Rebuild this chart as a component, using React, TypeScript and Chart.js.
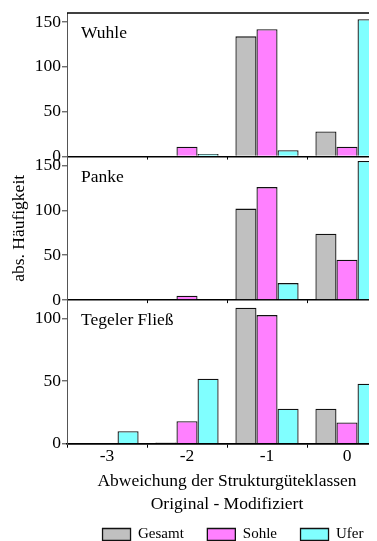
import React, { useEffect, useRef } from "react";
import { Chart, registerables } from "chart.js";

Chart.register(...registerables);

const categories = ["-3", "-2", "-1", "0"];
const seriesNames = ["Gesamt", "Sohle", "Ufer"];
const seriesColors = ["#c0c0c0", "#ff80ff", "#80ffff"];

const panelNames = ["Wuhle", "Panke", "Tegeler Fließ"];
const panelMax = [160, 160, 115];

const wuhleGesamt = [0, 1, 134, 28];
const wuhleSohle = [0, 11, 142, 11];
const wuhleUfer = [0, 3, 7, 153];

const pankeGesamt = [0, 1, 102, 74];
const pankeSohle = [0, 5, 126, 45];
const pankeUfer = [0, 1, 19, 155];

const tegelGesamt = [0, 1, 109, 28];
const tegelSohle = [0, 18, 103, 17];
const tegelUfer = [10, 52, 28, 48];

const yTitle = "abs. Häufigkeit";
const xTitle = ["Abweichung der Strukturgüteklassen", "Original - Modifiziert"];

const FONT = "'Liberation Serif', 'Times New Roman', serif";

export default function App() {
  const ref = useRef<HTMLCanvasElement>(null);

  useEffect(() => {
    document.documentElement.style.overflow = "hidden";
    document.body.style.overflow = "hidden";
    const canvas = ref.current;
    if (!canvas) return;

    const panelData = [
      [wuhleGesamt, wuhleSohle, wuhleUfer],
      [pankeGesamt, pankeSohle, pankeUfer],
      [tegelGesamt, tegelSohle, tegelUfer],
    ];
    const axisIds = ["yW", "yP", "yT"];

    const datasets: any[] = [];
    panelData.forEach((panel, p) => {
      panel.forEach((vals, s) => {
        datasets.push({
          label: seriesNames[s],
          data: vals,
          yAxisID: axisIds[p],
          stack: seriesNames[s],
          backgroundColor: seriesColors[s],
          borderColor: "#111",
          borderWidth: 1.3,
          categoryPercentage: 0.79,
          barPercentage: 1.0,
        });
      });
    });

    const tickFont = { family: FONT, size: 17.5, lineHeight: 1.2 };

    const yAxis = (max: number, withTitle: boolean) => ({
      type: "linear",
      position: "left",
      stack: "panels",
      stackWeight: 1,
      min: 0,
      max,
      border: { display: true, color: "#555", width: 1 },
      grid: {
        drawOnChartArea: true,
        drawTicks: true,
        tickLength: 5,
        tickColor: "#333",
        tickWidth: 1,
        lineWidth: 1.6,
        color: (c: any) => (c.tick && c.tick.value === 0 ? "#000" : "rgba(0,0,0,0)"),
      },
      ticks: {
        stepSize: 50,
        includeBounds: false,
        autoSkip: false,
        color: "#000",
        font: tickFont,
        padding: 1,
      },
      title: {
        display: withTitle,
        text: yTitle,
        color: "#000",
        font: { family: FONT, size: 17.5, lineHeight: 1.2 },
        padding: { top: 0.5, bottom: 0 },
      },
      afterFit: (s: any) => {
        s.width = 59;
        s.paddingTop = 0;
        s.paddingBottom = 0;
      },
    });

    const panelPlugin = {
      id: "panelDecor",
      afterDraw(chart: any) {
        const { ctx, chartArea } = chart;
        const xs = chart.scales.x;
        ctx.save();
        ctx.strokeStyle = "#000";
        ctx.lineWidth = 1.6;
        ctx.beginPath();
        ctx.moveTo(chartArea.left, chartArea.top);
        ctx.lineTo(chartArea.right, chartArea.top);
        ctx.stroke();
        ctx.lineWidth = 1;
        const half = (xs.getPixelForTick(1) - xs.getPixelForTick(0)) / 2;
        ["yW", "yP"].forEach((id) => {
          const sc = chart.scales[id];
          const y0 = sc.getPixelForValue(0);
          for (let i = 1; i < categories.length; i++) {
            const x = Math.round(xs.getPixelForTick(i) - half) + 0.5;
            ctx.beginPath();
            ctx.moveTo(x, y0);
            ctx.lineTo(x, y0 + 3);
            ctx.stroke();
          }
        });
        ctx.fillStyle = "#000";
        ctx.font = `17.5px ${FONT}`;
        ctx.textAlign = "left";
        ctx.textBaseline = "alphabetic";
        axisIds.forEach((id, i) => {
          const sc = chart.scales[id];
          ctx.fillText(panelNames[i], chartArea.left + 14, sc.top + 25);
        });
        ctx.restore();
      },
    };

    const chart = new Chart(canvas, {
      type: "bar",
      data: { labels: categories, datasets },
      options: {
        responsive: false,
        maintainAspectRatio: false,
        devicePixelRatio: 1,
        animation: false,
        layout: { padding: { top: 5, right: 0, bottom: 0, left: 0 } },
        scales: {
          x: {
            type: "category",
            offset: true,
            border: { display: true, color: "#000", width: 1.6 },
            grid: {
              offset: true,
              drawOnChartArea: false,
              drawTicks: true,
              tickLength: 4,
              tickColor: "#000",
              color: "#000",
            },
            ticks: { color: "#000", font: tickFont, padding: -2 },
            title: {
              display: true,
              text: xTitle,
              color: "#000",
              font: { family: FONT, size: 17.5, lineHeight: 1.314 },
              padding: { top: 4.8, bottom: -12 },
            },
          },
          yT: yAxis(panelMax[2], false),
          yP: yAxis(panelMax[1], true),
          yW: yAxis(panelMax[0], false),
        } as any,
        plugins: {
          legend: {
            display: true,
            position: "bottom",
            fullSize: false,
            align: "end",
            labels: {
              color: "#000",
              font: { family: FONT, size: 15 },
              boxWidth: 28,
              boxHeight: 12,
              padding: 23.5,
              filter: (item: any) => item.datasetIndex < 3,
            },
          },
          tooltip: { enabled: false },
        },
      } as any,
      plugins: [panelPlugin],
    });

    return () => chart.destroy();
  }, []);

  return (
    <canvas ref={ref} width={379} height={544} style={{ display: "block", width: 379, height: 544 }} />
  );
}
